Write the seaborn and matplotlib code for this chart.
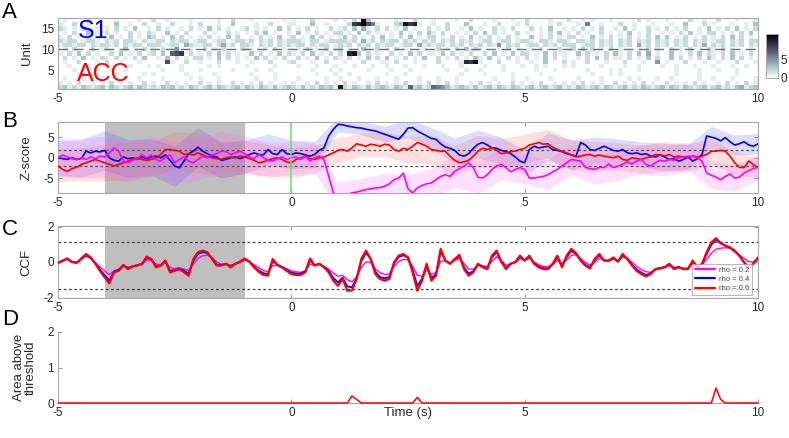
import numpy as np
import matplotlib
matplotlib.use("Agg")
import matplotlib.pyplot as plt
import seaborn as sns
from matplotlib.lines import Line2D

# ---------------- data ----------------
time = np.round(np.linspace(-5, 10, 151), 2)
band_time = time[::5]
x_tick_pos = [-5, 0, 5, 10]
x_tick_labels = ['-5', '0', '5', '10']
unit_ticks = [5, 10, 15]
n_units = 17

# Panel A: activity per unit (unit 17 top ... unit 1 bottom), hex-coded level per 0.1 s bin
raster_rows = [
    "0100002000 0010000100 2001000010 0000100200 0100000010 1000200001 01020c3000 0010002000 1000010020 0001000100 2000010002 0010100010 0000201000 1000020010 0200010001",
    "1002001000 0030010020 0100200010 2000100300 0010020001 1000300100 0029ac8610 0023b9a100 1002000300 0100200010 2000010200 0106001000 2001000100 0100300020 1000100103",
    "2101020010 1020103001 0201001020 1030201001 2010100302 0102010020 1203041020 2010301002 0102001030 1002010200 0201030010 1020102001 0301002010 2010200103 0102030102",
    "0102003010 2010020102 1003010200 0201002010 1020301001 0301020102 2010302010 0103010203 1020010102 0302010020 1001020301 0201002010 1030102001 0102030102 2010102030",
    "1020102010 0301020103 2010302010 1020103020 0102010301 2010302010 1302010203 0102030102 2010201030 1020102010 0301020102 2010301020 1020102030 3010201020 1020302010",
    "2122012210 2120221021 1220212201 2201220122 1202120212 2210220122 2212041202 1220212021 2021202120 1220122012 2102210221 0221202120 2120212021 2021202120 1220212022",
    "1221220212 2120212202 2201220421 1220241202 2102120212 1220212201 2120212021 2201220412 1220212021 2021502120 1220212022 2012202120 2120412021 2021202140 2120212021",
    "0102000201 2000301020 1020150010 0201020002 1000102010 0102010201 2010031020 1020100010 0201020302 1000102010 0102000201 2030201020 1000102010 0201020102 1020100010",
    "1020302010 0203010201 2030789020 1020302010 0302010302 1020301020 20ab302010 0201030201 1030201020 0203010302 2010302010 0302010203 1020304010 0301020302 1020301020",
    "0201030102 1020102030 0103020102 2010302010 1030201020 0201030102 1020103020 3010201030 0201020103 1030102010 2010302010 0102030201 1020103020 0302010203 1020302010",
    "0100200010 2001000100 0008100200 1000200010 0100020001 2000100200 0100020001 1020001000 0200001a9b 1000200010 0100300020 1002000100 0200010050 1000200010 0100020001",
    "0010001000 1000010001 0100001000 0010100000 1000001000 0100010001 0001000100 1000100010 0010001000 0100010001 0010100010 1000001000 0100100001 0010001000 1000100100",
    "0001000010 0100100000 0010001000 1000000100 0010010000 0000100010 1000001000 0100010000 0001000100 1000010000 0010001000 0001000010 1000100000 0010000100 0100010000",
    "0000100000 0010000010 1000000100 0001000000 0100001000 0000010001 0010000000 1000100000 0000001000 0100000100 0001000000 0000100010 1000000000 0010000100 0000010000",
    "0100010001 0000100100 0010000010 1000100000 0010001000 0100000100 1000100010 0010000100 0100010000 0001000100 1000010000 0100001000 0010100010 0100000100 1000100001",
    "1010200101 0201010020 1002010100 2010100201 0102010010 1001020101 0201001020 1010200102 0102010010 2010100201 0102001010 1020101002 0101020100 2010102010 0102010201",
    "2312132123 1321231321 2132312132 1231321231 3213213123 2131213231 b213213123 2132172312 7653123213 1231321321 2312312312 1321231321 2312132123 1321321231 2312134123",
]

# Panel B: z-scores
zscore_s1 = [
    0.0, -0.2, -0.4, 0.0, -0.4, -0.2, 1.6, 1.2, 1.6, 1.4,
    1.8, 0.0, -0.6, -0.8, 0.2, -0.2, 0.0, -0.4, 0.2, -0.2,
    0.2, 0.4, 0.0, 0.7, -0.6, -2.0, -2.4, -0.8, 1.0, 1.6,
    2.6, 1.6, 1.0, 0.4, 0.2, -0.6, -0.4, 0.0, 0.2, -0.2,
    0.2, 0.8, 1.2, 0.8, 0.7, 2.0, 1.0, 0.8, 2.0, 1.0,
    0.8, 1.2, 1.0, 0.7, 0.4, 0.8, 1.8, 2.4, 5.3, 6.9,
    8.1, 8.0, 7.7, 7.5, 7.3, 7.2, 6.9, 6.7, 6.5, 6.1,
    5.7, 5.3, 4.9, 4.5, 5.7, 7.2, 7.3, 6.5, 5.9, 5.3,
    4.7, 4.5, 3.4, 2.6, 2.3, 1.8, 0.7, 0.4, 1.0, 2.3,
    3.3, 3.7, 3.1, 2.4, 2.3, 1.8, 1.5, 1.0, 0.2, -0.8,
    -1.2, 2.0, 2.8, 2.4, 2.6, 2.8, 2.0, 1.8, 1.5, 1.0,
    0.7, 0.4, 3.7, 3.1, 2.0, 1.8, 2.3, 2.8, 2.3, 1.8,
    1.6, 2.0, 1.2, 1.0, 1.2, 0.8, 1.0, 0.4, 0.2, 0.7,
    0.2, -0.4, -0.2, -0.8, -0.4, 0.2, -0.8, -0.2, 0.8, 5.3,
    5.0, 4.7, 4.1, 4.9, 3.9, 3.1, 3.4, 3.9, 3.1, 2.8, 3.4,
]
zscore_acc = [
    -2.0, -2.8, -3.3, -2.6, -2.3, -1.6, -1.2, -0.8, -0.4, -0.8,
    -1.2, -1.6, -2.0, -1.6, -1.2, -0.8, -0.4, 0.0, -0.4, -0.6,
    -0.4, 0.0, 0.8, 2.0, 2.0, 1.8, 1.6, 0.8, 1.0, 0.7,
    1.2, 0.7, 0.2, 0.0, -0.2, -0.4, 0.0, 0.2, 0.0, 0.4,
    0.2, -0.2, -0.6, -1.2, -1.0, -0.6, -0.2, 0.0, -0.4, -1.0,
    -1.2, -0.4, 0.0, 0.4, -0.2, -0.4, 0.0, 0.2, 0.7, 1.2,
    1.8, 2.0, 1.6, 2.4, 3.4, 3.1, 2.8, 3.3, 3.1, 2.8,
    3.3, 3.1, 2.0, 1.6, 2.3, 2.0, 2.8, 3.7, 3.3, 2.8,
    2.0, 1.8, 1.6, 1.6, 0.4, -0.6, -1.2, -1.0, -0.6, 0.4,
    1.6, 2.3, 2.0, 2.4, 1.8, 1.0, 1.2, 1.5, 1.6, 2.0,
    2.3, 3.1, 3.4, 3.7, 3.3, 3.4, 2.6, 2.0, 1.6, 1.2,
    0.7, 0.2, 0.4, 0.7, 0.8, 0.4, 0.7, 0.4, 0.2, 0.0,
    0.4, -0.4, -0.6, 0.0, -0.2, -0.4, 0.0, 0.2, 0.8, 0.7,
    0.4, 0.8, 0.2, 0.4, 0.2, 0.0, 0.4, 0.2, 0.4, 0.8,
    1.6, 1.6, 1.8, 1.6, 0.4, -1.2, -2.3, -2.4, -0.8, -1.6, -2.4,
]
zscore_other = [
    0.0, 0.7, 0.2, -0.2, -0.4, 0.0, -0.4, 0.2, -0.2, 0.4,
    0.2, 1.2, 2.4, 1.6, -0.8, -1.2, -0.6, -0.2, 0.8, 0.0,
    0.7, -0.4, -0.8, 0.2, 0.7, -1.2, -0.4, 0.2, -0.8, -1.2,
    -0.4, 0.4, 0.0, 0.7, 1.0, 1.6, 1.5, 0.8, 1.2, 1.6,
    1.0, 0.2, -0.2, 0.8, 0.0, -0.6, -0.8, -0.2, 0.2, -0.4,
    0.0, 0.2, -0.4, 0.4, -0.8, 0.0, 0.4, -0.4, -4.5, -8.5,
    -9.1, -9.1, -8.9, -8.5, -8.3, -8.0, -7.7, -7.5, -7.3, -7.2,
    -6.9, -6.3, -5.3, -4.9, -3.7, -7.5, -8.5, -7.3, -6.7, -6.3,
    -6.1, -5.3, -4.5, -4.1, -4.5, -3.3, -2.6, -2.0, -1.2, -2.4,
    -4.7, -4.9, -4.1, -2.8, -2.0, -1.6, -2.4, -3.4, -2.8, -2.4,
    -2.8, -4.9, -4.9, -4.7, -4.5, -4.1, -3.4, -2.8, -2.0, -1.2,
    -0.4, -0.6, -0.8, -2.3, -2.6, -2.8, -2.3, -2.4, -1.5, -2.4,
    -2.0, -1.6, -1.0, -1.5, -0.8, -0.4, -1.6, -2.0, -1.2, -0.6,
    -0.8, -0.4, -0.6, 0.0, 0.2, 0.4, 0.4, 0.0, -0.8, -3.7,
    -4.2, -4.7, -5.3, -4.5, -3.9, -4.9, -4.7, -3.7, -3.1, -2.6, -2.3,
]
# band half-widths every 0.5 s
band_s1 = [4.2, 4.5, 4.8, 4.6, 4.4, 4.9, 4.7, 4.3, 4.0, 3.8, 3.5, 3.2, 1.8, 1.6, 1.9, 2.2,
           2.6, 3.0, 3.4, 3.2, 3.0, 3.3, 3.6, 3.2, 3.0, 3.1, 3.3, 3.0, 2.6, 2.4, 2.5]
band_acc = [3.8, 4.0, 4.4, 4.6, 4.2, 4.5, 4.8, 4.4, 4.0, 3.8, 3.6, 3.4, 3.0, 2.8, 3.0, 3.2,
            3.4, 3.6, 3.8, 3.6, 3.4, 3.5, 3.7, 3.5, 3.3, 3.4, 3.6, 3.4, 3.0, 2.8, 2.6]
band_other = [4.5, 4.8, 5.0, 4.8, 4.6, 5.0, 5.2, 4.8, 4.4, 4.2, 4.0, 3.6, 3.2, 3.0, 3.2, 3.4,
              3.6, 3.8, 3.9, 3.7, 3.5, 3.6, 3.8, 3.6, 3.4, 3.5, 3.6, 3.4, 3.3, 3.2, 3.0]
z_threshold = [1.96, -1.96]

# Panel C: CCF for three rho values
ccf_rho06 = [
    -0.06, 0.08, 0.2, 0.0, -0.05, 0.2, 0.45, 0.26, -0.1, -0.5,
    -0.87, -1.2, -0.58, -0.5, -0.17, -0.4, -0.25, -0.2, -0.1, 0.3,
    0.17, -0.3, -0.2, 0.08, -0.58, -0.5, -0.4, -0.58, -0.77, 0.17,
    0.55, 0.64, 0.55, 0.17, -0.2, -0.2, -0.1, -0.3, -0.1, 0.02,
    0.2, 0.02, -0.3, -0.55, -0.73, -0.77, 0.17, -0.17, -0.3, -0.5,
    -0.68, -0.73, -0.73, -0.58, 0.2, -0.2, -0.1, -0.3, -0.58, -1.05,
    -1.34, -0.96, -1.62, -1.6, -0.96, 0.17, 0.64, 0.17, -0.68, -0.96,
    -1.05, -0.96, -0.02, 0.36, 0.45, 0.26, -0.58, -1.62, -1.05, -0.1,
    -1.05, -0.77, 0.74, 0.08, -0.1, 0.17, 0.4, -0.4, -0.77, -0.58,
    -0.1, -0.3, -0.4, 0.36, 0.64, 0.0, -0.4, -0.1, 0.0, 0.36,
    0.08, 0.36, -0.1, -0.3, -0.4, -0.4, -0.1, 0.36, -0.3, 0.36,
    0.74, 0.5, 0.08, -0.2, -0.36, 0.17, 0.45, 0.08, 0.08, 0.26,
    0.02, 0.45, 0.17, -0.2, -0.5, -0.68, -0.81, -0.68, -0.4, -0.36,
    -0.3, -0.1, -0.4, -0.3, -0.4, -0.4, 0.08, -0.3, -0.1, 0.55,
    1.1, 1.34, 1.07, 0.92, 0.83, 0.64, 0.36, -0.02, -0.36, -0.1, 0.26,
]
ccf_rho04 = [
    -0.05, 0.07, 0.18, 0.0, -0.04, 0.18, 0.4, 0.22, -0.08, -0.42,
    -0.75, -1.05, -0.55, -0.45, -0.18, -0.35, -0.24, -0.18, -0.1, 0.25,
    0.15, -0.25, -0.2, 0.05, -0.5, -0.45, -0.38, -0.5, -0.65, 0.08,
    0.45, 0.56, 0.5, 0.2, -0.15, -0.18, -0.1, -0.25, -0.1, 0.0,
    0.17, 0.03, -0.25, -0.48, -0.63, -0.68, 0.05, -0.15, -0.27, -0.45,
    -0.6, -0.65, -0.66, -0.52, 0.1, -0.18, -0.1, -0.27, -0.5, -0.9,
    -1.15, -0.88, -1.38, -1.42, -0.9, 0.05, 0.5, 0.2, -0.55, -0.85,
    -0.92, -0.85, -0.08, 0.28, 0.38, 0.25, -0.45, -1.35, -0.95, -0.2,
    -0.9, -0.7, 0.58, 0.1, -0.08, 0.15, 0.33, -0.3, -0.65, -0.52,
    -0.12, -0.27, -0.35, 0.28, 0.55, 0.02, -0.33, -0.1, 0.0, 0.3,
    0.08, 0.3, -0.08, -0.25, -0.35, -0.36, -0.12, 0.28, -0.22, 0.28,
    0.63, 0.45, 0.1, -0.15, -0.3, 0.12, 0.38, 0.08, 0.07, 0.22,
    0.03, 0.4, 0.16, -0.15, -0.42, -0.6, -0.73, -0.64, -0.4, -0.34,
    -0.28, -0.12, -0.36, -0.28, -0.38, -0.38, 0.04, -0.28, -0.12, 0.45,
    0.98, 1.25, 1.05, 0.92, 0.8, 0.6, 0.35, 0.0, -0.3, -0.1, 0.22,
]
ccf_rho02 = [
    -0.04, 0.06, 0.15, 0.02, -0.02, 0.15, 0.32, 0.22, -0.02, -0.28,
    -0.5, -0.72, -0.5, -0.4, -0.22, -0.3, -0.25, -0.2, -0.12, 0.12,
    0.1, -0.12, -0.15, -0.02, -0.3, -0.38, -0.32, -0.4, -0.48, -0.1,
    0.2, 0.35, 0.38, 0.25, 0.0, -0.12, -0.1, -0.18, -0.1, -0.02,
    0.1, 0.02, -0.15, -0.32, -0.48, -0.55, -0.2, -0.2, -0.28, -0.38,
    -0.5, -0.55, -0.58, -0.5, -0.1, -0.2, -0.15, -0.25, -0.4, -0.62,
    -0.8, -0.75, -1.0, -1.12, -0.82, -0.3, 0.0, -0.02, -0.38, -0.6,
    -0.7, -0.68, -0.25, 0.02, 0.15, 0.12, -0.25, -0.75, -0.8, -0.45,
    -0.7, -0.6, 0.05, 0.05, -0.05, 0.08, 0.2, -0.08, -0.4, -0.4,
    -0.2, -0.22, -0.25, 0.05, 0.3, 0.08, -0.18, -0.12, -0.03, 0.18,
    0.1, 0.22, 0.02, -0.15, -0.25, -0.28, -0.15, 0.08, -0.08, 0.12,
    0.38, 0.4, 0.2, -0.02, -0.18, -0.02, 0.22, 0.12, 0.06, 0.15,
    0.06, 0.28, 0.2, -0.02, -0.25, -0.42, -0.55, -0.58, -0.45, -0.38,
    -0.3, -0.2, -0.3, -0.3, -0.35, -0.35, -0.1, -0.2, -0.15, 0.15,
    0.5, 0.72, 0.78, 0.8, 0.78, 0.6, 0.4, 0.2, 0.02, 0.0, 0.15,
]
ccf_threshold = [1.1, -1.5]
rho_labels = ['rho = 0.2', 'rho = 0.4', 'rho = 0.6']

# Panel D: area above threshold
area_above = [
    0, 0, 0, 0, 0, 0, 0, 0, 0, 0,
    0, 0, 0, 0, 0, 0, 0, 0, 0, 0,
    0, 0, 0, 0, 0, 0, 0, 0, 0, 0,
    0, 0, 0, 0, 0, 0, 0, 0, 0, 0,
    0, 0, 0, 0, 0, 0, 0, 0, 0, 0,
    0, 0, 0, 0, 0, 0, 0, 0, 0, 0,
    0, 0, 0, 0.2, 0.1, 0, 0, 0, 0, 0,
    0, 0, 0, 0, 0, 0, 0, 0.16, 0, 0,
    0, 0, 0, 0, 0, 0, 0, 0, 0, 0,
    0, 0, 0, 0, 0, 0, 0, 0, 0, 0,
    0, 0, 0, 0, 0, 0, 0, 0, 0, 0,
    0, 0, 0, 0, 0, 0, 0, 0, 0, 0,
    0, 0, 0, 0, 0, 0, 0, 0, 0, 0,
    0, 0, 0, 0, 0, 0, 0, 0, 0, 0,
    0, 0.42, 0.1, 0, 0, 0, 0, 0, 0, 0, 0,
]
baseline_window = [-4, -1]

# ---------------- style ----------------
sns.set_theme(style='white')
plt.rcParams['font.family'] = ['Liberation Sans', 'DejaVu Sans']
plt.rcParams['axes.unicode_minus'] = False

SPINE = '#a8a8a8'
TXT = '#262626'
TICK_FS = 8.5
LAB_FS = 9.5

fig = plt.figure(figsize=(7.89, 4.38), dpi=100)
W, H = 789.0, 438.0

def add_ax(top_px, bottom_px):
    return fig.add_axes([58 / W, 1 - bottom_px / H, 700 / W, (bottom_px - top_px) / H])

def style_ax(ax, box=True):
    for s in ax.spines.values():
        s.set_visible(box)
        s.set_color(SPINE)
        s.set_linewidth(0.8)
    if not box:
        ax.spines['left'].set_visible(True)
        ax.spines['bottom'].set_visible(True)
    ax.tick_params(direction='in', length=3, width=0.6, color='#888888',
                   top=box, right=box, bottom=True, left=True,
                   labelsize=TICK_FS, labelcolor=TXT, pad=3)

# ---- Panel A ----
axA = add_ax(18, 89)
caxA = fig.add_axes([766 / W, 1 - 78 / H, 12 / W, 44 / H])
raster = np.array([[int(c, 16) for c in r.replace(' ', '')[:150].ljust(150, '0')]
                   for r in raster_rows], dtype=float)
sns.heatmap(raster, ax=axA, cmap='bone_r', vmin=0, vmax=12, cbar_ax=caxA,
            cbar_kws={'ticks': [0, 5]}, linewidths=0, xticklabels=False, yticklabels=False)
n_bins = raster.shape[1]
axA.set_xticks([(t + 5) / 15 * n_bins for t in x_tick_pos])
axA.set_xticklabels(x_tick_labels, rotation=0)
axA.set_yticks([n_units + 0.5 - u for u in unit_ticks])
axA.set_yticklabels([str(u) for u in unit_ticks], rotation=0)
style_ax(axA)
axA.axhline(n_units + 0.5 - 10, color='#707070', lw=1.0, ls=(0, (7, 4)))
axA.text((-4.57 + 5) / 15 * n_bins, n_units + 0.5 - 14.3, 'S1', color='#0000ff',
         fontsize=18, ha='left', va='center')
axA.text((-4.59 + 5) / 15 * n_bins, n_units + 0.5 - 4.0, 'ACC', color='#ff0000',
         fontsize=18, ha='left', va='center')
axA.set_ylabel('Unit', fontsize=LAB_FS, color=TXT)
axA.yaxis.set_label_coords(-0.036, 0.5)
caxA.tick_params(labelsize=TICK_FS, labelcolor=TXT, length=0, pad=2)
for s in caxA.spines.values():
    s.set_visible(True); s.set_color(SPINE); s.set_linewidth(0.6)

# ---- Panel B ----
axB = add_ax(122.3, 193.3)
axB.axvspan(baseline_window[0], baseline_window[1], color='#bfbfbf', zorder=0, lw=0)
series_B = [(zscore_s1, band_s1, '#0000ff', '#5050ff'),
            (zscore_acc, band_acc, '#ff0000', '#ff6060'),
            (zscore_other, band_other, '#ff00ff', '#ff60ff')]
for vals, hw, col, bcol in series_B:
    centre = np.array(vals)[::5]
    axB.fill_between(band_time, centre - np.array(hw), centre + np.array(hw),
                     color=bcol, alpha=0.2, lw=0, zorder=1)
for yv in z_threshold:
    axB.axhline(yv, color='#555555', lw=0.9, ls=(0, (2.2, 2)), zorder=2)
for vals, hw, col, bcol in series_B:
    sns.lineplot(x=time, y=vals, ax=axB, color=col, lw=1.2, zorder=3)
axB.axvline(0, color='#55ee55', lw=1.1, zorder=4)
axB.set_xlim(-5, 10)
axB.set_ylim(-8.6, 8.6)
axB.set_xticks(x_tick_pos); axB.set_xticklabels(x_tick_labels)
axB.set_yticks([-5, 0, 5]); axB.set_yticklabels(['-5', '0', '5'])
style_ax(axB)
axB.set_ylabel('Z-score', fontsize=LAB_FS, color=TXT)
axB.yaxis.set_label_coords(-0.036, 0.5)

# ---- Panel C ----
axC = add_ax(226.5, 297.5)
axC.axvspan(baseline_window[0], baseline_window[1], color='#bfbfbf', zorder=0, lw=0)
for yv in ccf_threshold:
    axC.axhline(yv, color='#444444', lw=0.9, ls=(0, (2.2, 2)), zorder=1)
ccf_series = [(ccf_rho02, '#ff00ff', 1.0, rho_labels[0]),
              (ccf_rho04, '#0000ff', 1.3, rho_labels[1]),
              (ccf_rho06, '#ff0000', 1.6, rho_labels[2])]
for vals, col, lw, lab in ccf_series:
    sns.lineplot(x=time, y=vals, ax=axC, color=col, lw=lw, zorder=3)
axC.set_xlim(-5, 10)
axC.set_ylim(-2, 2)
axC.set_xticks(x_tick_pos); axC.set_xticklabels(x_tick_labels)
axC.set_yticks([-2, 0, 2]); axC.set_yticklabels(['-2', '0', '2'])
style_ax(axC)
axC.set_ylabel('CCF', fontsize=LAB_FS, color=TXT)
axC.yaxis.set_label_coords(-0.036, 0.5)
handles = [Line2D([0], [0], color=c, lw=1.6) for _, c, _, _ in ccf_series]
leg = axC.legend(handles, rho_labels, loc='lower right', bbox_to_anchor=(0.991, 0.035),
                 borderaxespad=0, fontsize=5.5, frameon=True, fancybox=False,
                 handlelength=2.6, labelspacing=0.25, borderpad=0.35, handletextpad=0.5)
leg.get_frame().set_edgecolor('#999999')
leg.get_frame().set_linewidth(0.6)
for t in leg.get_texts():
    t.set_color('#444444')

# ---- Panel D ----
axD = add_ax(332, 403)
sns.lineplot(x=time, y=area_above, ax=axD, color='#ff0000', lw=1.1, clip_on=False, zorder=3)
axD.set_xlim(-5, 10)
axD.set_ylim(0, 2)
axD.set_xticks(x_tick_pos); axD.set_xticklabels(x_tick_labels)
axD.set_yticks([0, 1, 2]); axD.set_yticklabels(['0', '1', '2'])
style_ax(axD, box=False)
axD.set_ylabel('Area above\nthreshold', fontsize=LAB_FS, color=TXT, linespacing=1.0)
axD.yaxis.set_label_coords(-0.03, 0.5)
axD.set_xlabel('Time (s)', fontsize=LAB_FS, color=TXT)
axD.xaxis.set_label_coords(0.5, -0.05)

# panel letters
for letter, top_px in [('A', 2), ('B', 111), ('C', 219), ('D', 309)]:
    fig.text(2 / W, 1 - top_px / H, letter, fontsize=16, va='top', ha='left', color='black')

fig.savefig('out.png', dpi=100)
